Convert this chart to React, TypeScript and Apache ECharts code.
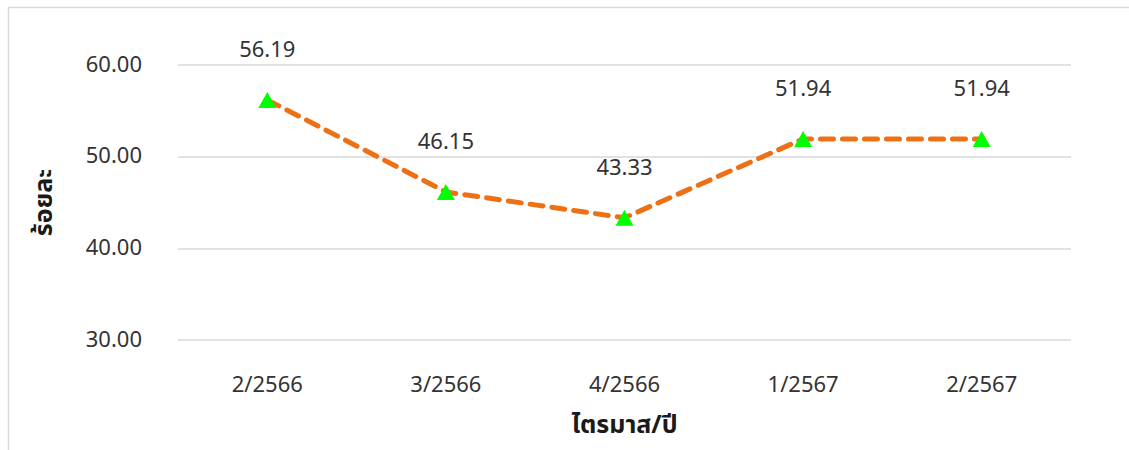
import React, { useEffect, useRef } from "react";
import * as echarts from "echarts";

const categories = ["2/2566", "3/2566", "4/2566", "1/2567", "2/2567"];
const values = [56.19, 46.15, 43.33, 51.94, 51.94];
const yTicks = { min: 30, max: 60, interval: 10 };
const xAxisName = "ไตรมาส/ปี";
const yAxisName = "ร้อยละ";

const FONT = '"Noto Sans Thai", "Noto Sans", "DejaVu Sans", sans-serif';

export default function App() {
  const ref = useRef<HTMLDivElement>(null);
  useEffect(() => {
    if (!ref.current) return;
    const chart = echarts.init(ref.current, null, { renderer: "svg" });
    chart.setOption({
      animation: false,
      backgroundColor: "#ffffff",
      graphic: [
        {
          type: "rect",
          shape: { x: 8.5, y: 7.5, width: 1200, height: 500 },
          style: { fill: "none", stroke: "#d9d9d9", lineWidth: 1.5 },
          silent: true,
        },
      ],
      grid: { left: 178, right: 58, top: 65, bottom: 110, containLabel: false },
      xAxis: {
        type: "category",
        data: categories,
        boundaryGap: true,
        name: xAxisName,
        nameLocation: "middle",
        nameGap: 72,
        nameTextStyle: { fontFamily: FONT, fontSize: 25, fontWeight: "bold", color: "#1a1a1a" },
        axisLine: { show: false },
        axisTick: { show: false },
        axisLabel: { fontFamily: FONT, fontSize: 22, color: "#333333", margin: 34 },
      },
      yAxis: {
        type: "value",
        min: yTicks.min,
        max: yTicks.max,
        interval: yTicks.interval,
        name: yAxisName,
        nameLocation: "middle",
        nameGap: 122,
        nameRotate: 90,
        nameTextStyle: { fontFamily: FONT, fontSize: 25, fontWeight: "bold", color: "#1a1a1a" },
        axisLine: { show: false },
        axisTick: { show: false },
        splitLine: { lineStyle: { color: "#d9d9d9", width: 1.5 } },
        axisLabel: {
          fontFamily: FONT,
          fontSize: 22,
          color: "#333333",
          margin: 36,
          formatter: (v: number) => v.toFixed(2),
        },
      },
      series: [
        {
          type: "line",
          data: values,
          symbol: "triangle",
          symbolSize: [18, 16],
          itemStyle: { color: "#00ff00" },
          lineStyle: { color: "#ed7014", width: 5, type: [13, 9], cap: "round" },
          label: {
            show: true,
            position: "top",
            distance: 30,
            fontFamily: FONT,
            fontSize: 22,
            color: "#333333",
            formatter: (p: any) => Number(p.value).toFixed(2),
          },
          z: 3,
        },
      ],
    });
    return () => chart.dispose();
  }, []);
  return (
    <div
      ref={ref}
      style={{ position: "fixed", left: 0, top: 0, width: 1129, height: 450 }}
    />
  );
}
